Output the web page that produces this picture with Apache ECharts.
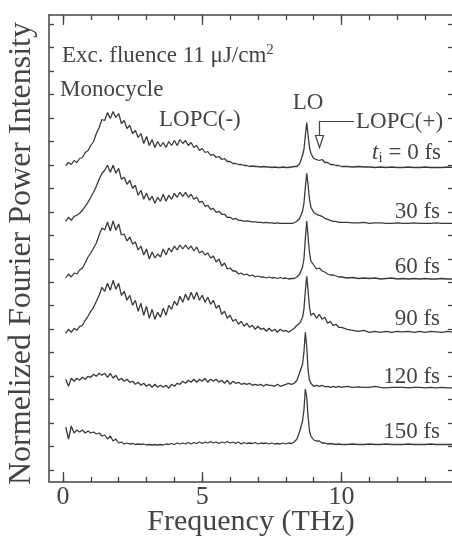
<!DOCTYPE html>
<html>
<head>
<meta charset="utf-8">
<style>
  html, body { margin: 0; padding: 0; background: #fff; }
  #chart { width: 452px; height: 538px; }
</style>
<script src="https://cdn.jsdelivr.net/npm/echarts@6/dist/echarts.min.js"></script>
</head>
<body>
<div id="chart"></div>
<script>
// frequency grid (THz)
const freq = [
  0.1, 0.2, 0.3, 0.4, 0.5, 0.6, 0.7, 0.8, 0.9, 1.0,
  1.1, 1.2, 1.3, 1.4, 1.5, 1.6, 1.7, 1.8, 1.9, 2.0,
  2.1, 2.2, 2.3, 2.4, 2.5, 2.6, 2.7, 2.8, 2.9, 3.0,
  3.1, 3.2, 3.3, 3.4, 3.5, 3.6, 3.7, 3.8, 3.9, 4.0,
  4.1, 4.2, 4.3, 4.4, 4.5, 4.6, 4.7, 4.8, 4.9, 5.0,
  5.1, 5.2, 5.3, 5.4, 5.5, 5.6, 5.7, 5.8, 5.9, 6.0,
  6.1, 6.2, 6.3, 6.4, 6.5, 6.6, 6.7, 6.8, 6.9, 7.0,
  7.1, 7.2, 7.3, 7.4, 7.5, 7.6, 7.7, 7.8, 7.9, 8.0,
  8.1, 8.2, 8.3, 8.4, 8.5, 8.6, 8.65, 8.7, 8.75, 8.8, 8.85, 8.9,
  9.0, 9.1, 9.2, 9.3, 9.4, 9.5, 9.6, 9.7, 9.8, 9.9, 10.0,
  10.2, 10.4, 10.6, 10.8, 11.0, 11.2, 11.4, 11.6, 11.8, 12.0,
  12.2, 12.4, 12.6, 12.8, 13.0, 13.2, 13.4, 13.6, 13.8, 14.0
]

// spectra (a.u., above each trace's own baseline)
const t0 = [
  2, 5, 3, 7, 5, 9, 10, 15, 17, 22,
  26, 34, 40, 48, 47, 55, 49, 56, 50, 54,
  44, 47, 39, 42, 34, 37, 30, 34, 24, 31,
  22, 28, 20, 26, 21, 25, 20, 26, 22, 27,
  22, 28, 24, 27, 22, 25, 20, 22, 17, 19,
  15, 16, 12, 13, 10, 11, 8, 9, 6, 6,
  4, 4, 3, 3, 2, 2, 1, 1.5, 1, 1,
  0.5, 1, 0.5, 0.5, 0, 0.5, 0, 0, 0.5, 0,
  0, 0.5, 1, 1, 4, 12, 18, 32, 45, 32, 20, 14,
  9, 8, 7, 8, 5, 5, 3, 3, 2, 2, 1,
  1, 0.5, 1, 0.5, 0.5, 0, 0.5, 0, 0.5, 0,
  0, 0.5, 0, 0, 0.5, 0, 0, 0, 0.5, 0
]
const t30 = [
  2, 6, 3, 7, 8, 10, 13, 17, 21, 26,
  31, 37, 44, 50, 53, 58, 51, 58, 50, 55,
  44, 46, 39, 43, 35, 38, 28, 33, 24, 30,
  23, 27, 20, 26, 22, 29, 22, 28, 24, 30,
  26, 31, 27, 31, 26, 29, 24, 26, 21, 22,
  17, 18, 14, 15, 11, 12, 9, 9, 6, 6,
  4, 5, 3, 3, 2, 2.5, 2, 1.5, 1.5, 1,
  1, 0.5, 1, 0.5, 0.5, 0, 0.5, 0, 0, 0,
  0, 0, 0.5, 2, 5, 12, 20, 36, 50, 38, 24, 16,
  11, 9, 8, 7, 5, 4, 3, 2, 2, 1, 1,
  1, 0.5, 0.5, 1, 0, 0.5, 0.5, 0, 0, 0.5,
  0, 0, 0.5, 0, 0, 0, 0.5, 0, 0, 0
]
const t60 = [
  1, 5, 2, 6, 5, 9, 11, 16, 22, 26,
  31, 36, 44, 51, 49, 57, 48, 58, 49, 55,
  44, 45, 38, 42, 35, 37, 29, 33, 24, 30,
  20, 27, 21, 25, 22, 30, 24, 31, 27, 33,
  29, 34, 30, 34, 30, 33, 28, 32, 26, 28,
  24, 26, 21, 23, 17, 20, 13, 16, 10, 11,
  8, 8, 5, 6, 4, 5, 3, 4, 2, 3,
  2, 2, 1, 2, 1, 1.5, 0.5, 1.5, 0.5, 1,
  0, 0.5, 0.5, 2, 5, 12, 20, 40, 58, 42, 26, 18,
  14, 10, 11, 8, 7, 5, 4, 4, 3, 2, 2,
  1, 1.5, 0.5, 1, 0.5, 1, 0, 0.5, 1, 0,
  0.5, 0, 0.5, 0, 0.5, 0, 0, 0.5, 0, 0
]
const t90 = [
  0, 4, 1, 5, 3, 7, 8, 13, 17, 22,
  26, 32, 38, 46, 42, 50, 43, 53, 44, 50,
  38, 42, 33, 38, 28, 33, 22, 30, 18, 27,
  15, 24, 14, 21, 16, 25, 18, 28, 24, 32,
  28, 37, 31, 39, 33, 41, 34, 41, 33, 38,
  31, 36, 29, 33, 25, 28, 19, 22, 15, 18,
  12, 14, 9, 12, 7, 10, 6, 8, 4, 7,
  4, 5, 2, 5, 2, 4, 1, 4, 2, 3,
  1, 3, 5, 8, 10, 16, 24, 42, 57, 42, 26, 18,
  20, 15, 19, 14, 16, 10, 12, 8, 9, 6, 6,
  4, 3, 2, 3, 1, 2, 1, 2, 1, 2,
  1.5, 2, 1, 2, 1, 2, 1.5, 1, 2, 1
]
const t120 = [
  9, 2, 10, 7, 10, 8, 11, 9, 12, 11,
  14, 12, 15, 13, 15, 11, 15, 10, 13, 8,
  10, 7, 9, 6, 7, 4, 6, 3, 5, 2,
  4, 1, 4, 1, 3, 1, 3, 0, 4, 2,
  5, 4, 7, 5, 8, 6, 9, 6, 9, 7,
  10, 6, 9, 7, 9, 6, 8, 5, 8, 4,
  7, 5, 6, 4, 5, 4, 5, 3, 4, 3,
  4, 2, 4, 3, 3, 2, 4, 2, 3, 4,
  5, 4, 5, 8, 16, 24, 36, 56, 42, 18, 8, 5,
  2, 3, 2, 3, 1.5, 2, 1, 2, 1, 2, 1,
  2, 1, 1.5, 1, 1, 2, 1, 0.5, 1, 1,
  1, 0.5, 1, 1, 0.5, 1, 0.5, 1, 0.5, 0.5
]
const t150 = [
  18, 6, 19, 12, 15, 13, 15, 12, 14, 12,
  13, 11, 12, 9, 10, 6, 9, 4, 6, 2,
  3, 1, 2, 1, 1.5, 0.5, 1, 0.5, 1, 0,
  0.5, 0, 0.5, 0, 0.5, 0, 1, 0.5, 1.5, 0.5,
  2, 1, 2, 1, 2.5, 1, 2.5, 1.5, 3, 1.5,
  3, 2, 3.5, 2, 3, 1.5, 3, 2, 3.5, 2,
  3, 1.5, 3, 1, 2.5, 1.5, 2, 1.5, 2.5, 1,
  2, 1.5, 2, 1, 2, 1, 1.5, 1, 2, 1,
  2, 1.5, 3, 6, 14, 24, 35, 56, 48, 28, 14, 9,
  5, 4, 4, 2, 2, 1, 1.5, 1, 0.5, 1, 0.5,
  0.5, 1, 0.5, 0.5, 1, 0.5, 0.5, 1, 0.5, 0.5,
  0.5, 1, 0.5, 0.5, 0.5, 1, 0.5, 0.5, 0.5, 0.5
]

const traces = [t0, t30, t60, t90, t120, t150]
const delays = ['0 fs', '30 fs', '60 fs', '90 fs', '120 fs', '150 fs']
const offsets = [302.5, 246.7, 191, 136.7, 81.7, 25]

const xMinorTicks = [0, 1, 2, 3, 4, 5, 6, 7, 8, 9, 10, 11, 12, 13, 14]
const xMajorTicks = [0, 5, 10]

const INK = '#444'
const SERIF = 'Liberation Serif'

// left/right ticks, one every 23.47 a.u.
const yTicks = []
for (let i = 0; i < 20; i++) yTicks.push(i * 23.47)

const chart = echarts.init(document.getElementById('chart'))

// two grids on the same rect: one carries the frame + minor ticks, one the major ticks
const rect = { left: 49, right: -1, top: 15, bottom: 56, containLabel: false, outerBoundsMode: 'none' }

function xAxisDef(grid, pos, major) {
  return {
    gridIndex: grid, type: 'value', min: -0.5, max: 14, position: pos,
    axisLine: { show: !major, onZero: false, lineStyle: { color: INK, width: 1.5 } },
    axisTick: {
      inside: true, length: major ? 10 : 5,
      customValues: major ? xMajorTicks : xMinorTicks,
      lineStyle: { color: INK, width: 1.3 }
    },
    axisLabel: { show: false },
    splitLine: { show: false }
  }
}

const bottomX = xAxisDef(0, 'bottom', false)
bottomX.name = 'Frequency (THz)'
bottomX.nameLocation = 'middle'
bottomX.nameGap = 25
bottomX.nameMoveOverlap = false
bottomX.nameTextStyle = { fontFamily: SERIF, fontSize: 30, color: INK }
bottomX.axisLabel = {
  show: true, customValues: xMajorTicks, margin: 2,
  fontFamily: SERIF, fontSize: 26, color: INK
}

function yAxisDef(grid, pos, hidden) {
  return {
    gridIndex: grid, type: 'value', min: -12, max: 455, position: pos, show: !hidden,
    axisLine: { show: true, onZero: false, lineStyle: { color: INK, width: 1.5 } },
    axisTick: { inside: true, length: 5, customValues: yTicks, lineStyle: { color: INK, width: 1.3 } },
    axisLabel: { show: false },
    splitLine: { show: false }
  }
}
const leftY = yAxisDef(0, 'left')
leftY.name = 'Normelized Fourier Power Intensity'
leftY.nameLocation = 'middle'
leftY.nameGap = 11
leftY.nameMoveOverlap = false
leftY.nameTextStyle = { fontFamily: SERIF, fontSize: 32, color: INK, padding: [0, 10, 0, 0] }

const series = traces.map((tr, k) => ({
  type: 'line',
  name: delays[k],
  showSymbol: false,
  xAxisIndex: 0, yAxisIndex: 0,
  lineStyle: { color: '#3a3a3a', width: 1.3 },
  data: freq.map((f, i) => [f, offsets[k] + tr[i]])
}))

chart.setOption({
  animation: false,
  grid: [rect, rect],
  xAxis: [bottomX, xAxisDef(0, 'top', false), xAxisDef(1, 'bottom', true), xAxisDef(1, 'top', true)],
  yAxis: [leftY, yAxisDef(0, 'right'), yAxisDef(1, 'left', true)],
  series: series
})

// annotations
const txt = (x, y, text, align, extra) => ({
  type: 'text', x: x, y: y, silent: true,
  style: Object.assign({
    text: text, fill: INK, font: '23px "Liberation Serif"',
    align: align || 'left', verticalAlign: 'middle'
  }, extra || {})
})

const rich = {
  n: { fontFamily: SERIF, fontSize: 23, color: INK },
  it: { fontFamily: SERIF, fontSize: 23, fontStyle: 'italic', color: INK },
  sup: { fontFamily: SERIF, fontSize: 15, color: INK, verticalAlign: 'top', padding: [0, 0, 12, 0] },
  sub: { fontFamily: SERIF, fontSize: 15, color: INK, padding: [10, 0, 0, 0] }
}

const elements = [
  txt(62, 56, '{n|Exc. fluence 11 μJ/cm}{sup|2}', 'left', { rich: rich }),
  txt(60, 90, 'Monocycle'),
  txt(159, 120, 'LOPC(-)'),
  txt(308, 103, 'LO', 'center'),
  txt(356, 122, 'LOPC(+)'),
  txt(441, 153, '{it|t}{sub|i}{n| = 0 fs}', 'right', { rich: rich })
]
const labelY = [null, 212, 267, 319, 377, 432]
for (let k = 1; k < delays.length; k++) elements.push(txt(440, labelY[k], delays[k], 'right'))

// LOPC(+) arrow at 9.2 THz
const arrowTop = chart.convertToPixel({ gridIndex: 0 }, [9.2, offsets[0] + 46])
const arrowTip = chart.convertToPixel({ gridIndex: 0 }, [9.2, offsets[0] + 20])
const ax = Math.round(arrowTop[0]) + 0.5
elements.push({
  type: 'polyline', silent: true,
  shape: { points: [[354, arrowTop[1]], [ax, arrowTop[1]], [ax, arrowTip[1] - 12]] },
  style: { stroke: INK, lineWidth: 1.2, fill: null }
})
elements.push({
  type: 'polygon', silent: true,
  shape: { points: [[ax - 4, arrowTip[1] - 12], [ax + 4, arrowTip[1] - 12], [ax, arrowTip[1]]] },
  style: { stroke: INK, lineWidth: 1.2, fill: '#fff' }
})

chart.setOption({ graphic: { elements: elements } })
</script>
</body>
</html>
